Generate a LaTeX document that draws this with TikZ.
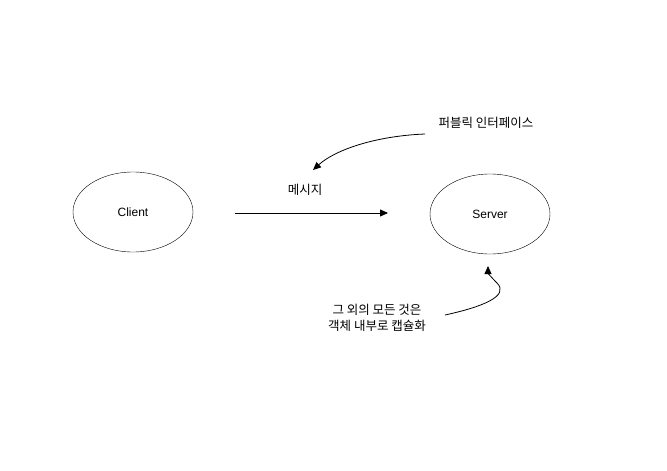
\documentclass[tikz,border=0pt]{standalone}
\usepackage{fontspec}
\setmainfont{Liberation Sans}
\newfontfamily\kr{Noto Sans CJK KR}
\usetikzlibrary{arrows.meta}
\usetikzlibrary{shapes.geometric}
\tikzset{
      obj/.style={draw=black, ellipse, minimum width=120, minimum height=80, inner sep=0, font=\fontsize{12}{14}\selectfont},
      note/.style={font=\kr\fontsize{12.5}{16}\selectfont, align=center, inner sep=0},
      msg/.style={draw=black, line width=0.8, -{Triangle[length=8,width=7]}},
}
\begin{document}
\begin{tikzpicture}[x=1pt,y=-1pt]
        \useasboundingbox (0,0) rectangle (667,471);

        \node[obj] (client) at (133,212) {Client};
        \node[obj] (server) at (490,214) {Server};

        \coordinate (msgfrom) at (235,213);
        \coordinate (msgto) at (388,213);
        \draw[msg] (msgfrom) -- (msgto);
        \node[note] (msgtext) at (305,190) {메시지};

        \node[note] (pubtext) at (486,123) {퍼블릭 인터페이스};
        \coordinate (pubfrom) at (425,134);
        \coordinate (pubto) at (313,170);
        \draw[msg] (pubfrom) .. controls (375,136) and (335,150) .. (pubto);

        \node[note] (innertext) at (377,318) {그 외의 모든 것은\\객체 내부로 캡슐화};
        \coordinate (innerfrom) at (445,315);
        \coordinate (innerto) at (488,266);
        \draw[msg] (innerfrom) .. controls (482,307) and (510,296) .. (497,283)
              .. controls (491,277) and (488,273) .. (innerto);

\end{tikzpicture}
\end{document}
